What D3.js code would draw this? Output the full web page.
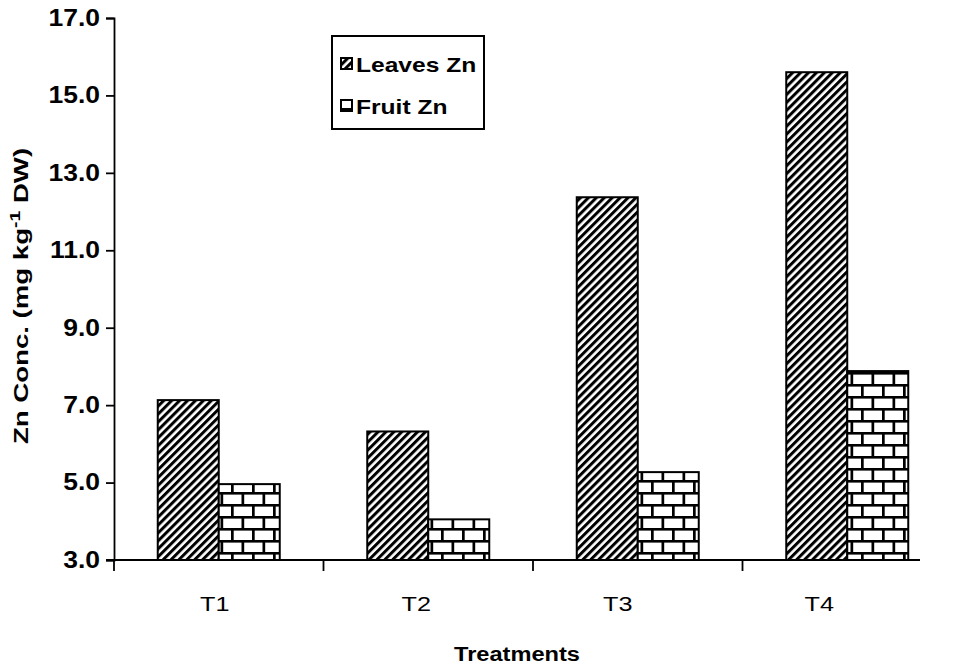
<!DOCTYPE html>
<html><head><meta charset="utf-8">
<script src="https://cdn.jsdelivr.net/npm/d3@7"></script>
<style>body{margin:0;background:#fff}svg{display:block}</style>
</head><body><svg id="c" width="961" height="665"></svg>
<script>
const categories = ["T1","T2","T3","T4"];
const seriesNames = ["Leaves Zn","Fruit Zn"];
const leavesZn = [7.13, 6.32, 12.37, 15.6];
const fruitZn = [4.96, 4.05, 5.27, 7.88];
const yTicks = [3,5,7,9,11,13,15,17];

(function(){
const FONT = "Liberation Sans, Arial, sans-serif";
const svg = d3.select("#c");
const defs = svg.append("defs");
function stretch(sel, sx){
  sel.each(function(){
    const L = this.getComputedTextLength();
    d3.select(this).attr("textLength", L*sx).attr("lengthAdjust","spacingAndGlyphs");
  });
}
const p1 = defs.append("pattern").attr("id","stripe").attr("patternUnits","userSpaceOnUse")
  .attr("width",5.6).attr("height",5.6).attr("patternTransform","rotate(45)");
p1.append("rect").attr("width",5.6).attr("height",5.6).attr("fill","#fff");
p1.append("rect").attr("width",3).attr("height",5.6).attr("fill","#000");
const bw=21, bh=12;
const p2 = defs.append("pattern").attr("id","brick").attr("patternUnits","userSpaceOnUse")
  .attr("width",bw).attr("height",bh*2);
p2.append("rect").attr("width",bw).attr("height",bh*2).attr("fill","#fff");
p2.append("rect").attr("x",0).attr("y",0).attr("width",bw).attr("height",2.6).attr("fill","#000");
p2.append("rect").attr("x",0).attr("y",bh).attr("width",bw).attr("height",2.6).attr("fill","#000");
p2.append("rect").attr("x",0).attr("y",0).attr("width",2.7).attr("height",bh).attr("fill","#000");
p2.append("rect").attr("x",bw/2).attr("y",bh).attr("width",2.7).attr("height",bh).attr("fill","#000");

const mLeft=114, mRight=920, mTop=18, mBottom=560;
const xBar = d3.scaleBand().domain(categories).range([mLeft,952]);
const xLab = d3.scaleBand().domain(categories).range([mLeft,mRight]);
const y = d3.scaleLinear().domain([3,17]).range([mBottom,mTop]);
const barW = 61;

const data = categories.map((c,i)=>({c, v:[leavesZn[i], fruitZn[i]]}));
const fills = ["url(#stripe)","url(#brick)"];

data.forEach(d=>{
  d.v.forEach((v,j)=>{
    const x0 = xBar(d.c) + xBar.bandwidth()/2 - barW + j*barW;
    svg.append("rect").attr("x",x0).attr("y",y(v)).attr("width",barW).attr("height",y(3)-y(v))
      .attr("fill",fills[j]).attr("stroke","#000").attr("stroke-width",2);
  });
});

const ya = svg.append("g").attr("transform",`translate(${mLeft},0)`)
  .call(d3.axisLeft(y).tickValues(yTicks).tickFormat(d3.format(".1f")).tickSizeOuter(0).tickSize(8).tickPadding(6));
ya.select(".domain").attr("stroke","#000").attr("stroke-width",1.8);
ya.selectAll(".tick line").attr("stroke","#000").attr("stroke-width",1.8);
ya.selectAll(".tick text").attr("font-family",FONT).attr("font-weight","bold").attr("font-size",23).attr("fill","#000");
stretch(ya.selectAll(".tick text"), 1.15);

const xa = svg.append("g").attr("transform",`translate(0,${mBottom})`)
  .call(d3.axisBottom(xLab).tickSize(0).tickPadding(36));
xa.select(".domain").attr("stroke","#000").attr("stroke-width",1.8).attr("d",`M${mLeft-8},0H${mRight}`);
xa.selectAll(".tick text").attr("font-family",FONT).attr("font-size",21).attr("fill","#000");
stretch(xa.selectAll(".tick text"), 1.2);
const bounds = categories.map(c=>xBar(c));
svg.selectAll("line.bt").data(bounds).enter().append("line").attr("class","bt")
  .attr("x1",d=>d).attr("x2",d=>d).attr("y1",mBottom).attr("y2",mBottom+11)
  .attr("stroke","#000").attr("stroke-width",1.8);

const xt = svg.append("text").attr("x",517).attr("y",661).attr("text-anchor","middle")
  .attr("font-family",FONT).attr("font-weight","bold").attr("font-size",20).text("Treatments");
stretch(xt, 1.18);
const yg = svg.append("g").attr("transform","translate(28,296) rotate(-90) scale(1.38,1)");
const yt = yg.append("text").attr("text-anchor","middle")
  .attr("font-family",FONT).attr("font-weight","bold").attr("font-size",20);
yt.append("tspan").text("Zn Conc. (mg kg");
yt.append("tspan").attr("dy",-8).attr("font-size",14).text("-1");
yt.append("tspan").attr("dy",8).text(" DW)");

const lg = svg.append("g");
lg.append("rect").attr("x",332).attr("y",36).attr("width",152).attr("height",93)
  .attr("fill","#fff").attr("stroke","#000").attr("stroke-width",2);
seriesNames.forEach((n,i)=>{
  const yy = 64 + i*42;
  lg.append("rect").attr("x",341).attr("y",yy-6).attr("width",11).attr("height",11)
    .attr("fill",fills[i]).attr("stroke","#000").attr("stroke-width",2);
  const t = lg.append("text").attr("x",356).attr("y",yy+8).attr("font-family",FONT)
    .attr("font-weight","bold").attr("font-size",21).text(n);
  stretch(t, 1.17);
});
})();
</script></body></html>
